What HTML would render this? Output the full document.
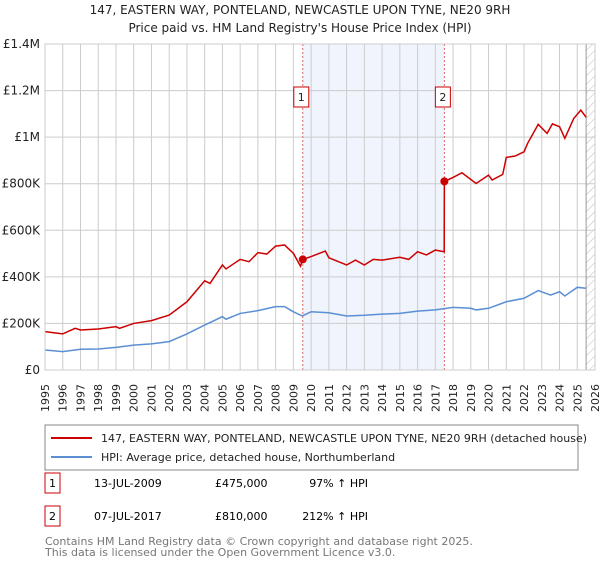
<!DOCTYPE html>
<html><head><meta charset="utf-8"><style>
body{margin:0;background:#fff;font-family:"Liberation Sans","DejaVu Sans",sans-serif;}
svg text{font-family:"DejaVu Sans","Liberation Sans",sans-serif;}
</style></head><body>
<svg id="chart" width="600" height="560" viewBox="0 0 600 560">
<defs><pattern id="hatch" width="6" height="6" patternUnits="userSpaceOnUse" patternTransform="rotate(45)"><line x1="0" y1="0" x2="0" y2="6" stroke="#bbb" stroke-width="1"/></pattern></defs>
<text x="300" y="14" text-anchor="middle" font-size="12" fill="#222">147, EASTERN WAY, PONTELAND, NEWCASTLE UPON TYNE, NE20 9RH</text>
<text x="300" y="32" text-anchor="middle" font-size="12" fill="#222">Price paid vs. HM Land Registry's House Price Index (HPI)</text>
<g id="plot"></g>
<rect x="45" y="425" width="533" height="45" fill="#fff" stroke="#888"/>
<line x1="51" y1="438" x2="92" y2="438" stroke="#cc0000" stroke-width="2"/>
<text x="101" y="442" font-size="11" fill="#222">147, EASTERN WAY, PONTELAND, NEWCASTLE UPON TYNE, NE20 9RH (detached house)</text>
<line x1="51" y1="457" x2="92" y2="457" stroke="#5b8fd4" stroke-width="2"/>
<text x="101" y="461" font-size="11" fill="#222">HPI: Average price, detached house, Northumberland</text>
<g>
<rect x="45" y="473" width="15" height="20" fill="#fff" stroke="#cc0000"/>
<text x="52.5" y="487" text-anchor="middle" font-size="11">1</text>
<text x="94" y="487" font-size="11">13-JUL-2009</text>
<text x="215" y="487" font-size="11">£475,000</text>
<text x="368" y="487" text-anchor="end" font-size="11">97% ↑ HPI</text></g>
<g>
<rect x="45" y="506" width="15" height="20" fill="#fff" stroke="#cc0000"/>
<text x="52.5" y="520" text-anchor="middle" font-size="11">2</text>
<text x="94" y="520" font-size="11">07-JUL-2017</text>
<text x="215" y="520" font-size="11">£810,000</text>
<text x="368" y="520" text-anchor="end" font-size="11">212% ↑ HPI</text></g>
<text x="45" y="545" font-size="11" fill="#777">Contains HM Land Registry data © Crown copyright and database right 2025.</text>
<text x="45" y="556" font-size="11" fill="#777">This data is licensed under the Open Government Licence v3.0.</text>
</svg>
<script>
const yTicks=[0,200,400,600,800,1000,1200,1400];
const yTickLabels=["£0","£200K","£400K","£600K","£800K","£1M","£1.2M","£1.4M"];
const years=[1995,1996,1997,1998,1999,2000,2001,2002,2003,2004,2005,2006,2007,2008,2009,2010,2011,2012,2013,2014,2015,2016,2017,2018,2019,2020,2021,2022,2023,2024,2025,2026];
const hpiT=[1995,1996,1997,1998,1999,2000,2001,2002,2003,2004,2005,2005.2,2006,2007,2008,2008.5,2009,2009.5,2010,2011,2012,2013,2014,2015,2016,2017,2018,2019,2019.3,2020,2021,2022,2022.8,2023.5,2024,2024.3,2025,2025.5];
const hpiV=[86,79,89,90,97,107,112,122,155,193,229,218,243,255,272,272,250,232,250,246,232,235,240,243,253,258,269,265,258,265,293,308,341,322,336,318,355,351];
const priceT=[1995,1996,1996.7,1997,1998,1999,1999.2,2000,2001,2002,2003,2004,2004.3,2005,2005.2,2006,2006.5,2007,2007.5,2008,2008.5,2009,2009.4,2009.53,2010,2010.8,2011,2012,2012.5,2013,2013.5,2014,2015,2015.5,2016,2016.5,2017,2017.5,2017.51,2018,2018.5,2019.3,2020,2020.2,2020.8,2021,2021.5,2022,2022.2,2022.8,2023.3,2023.6,2024,2024.3,2024.8,2025.2,2025.5];
const priceV=[165,155,179,172,176,186,179,200,212,236,293,383,372,451,434,475,465,504,498,532,537,501,446,475,487,511,482,451,472,451,475,472,484,475,508,494,515,508,810,827,847,801,837,816,840,913,919,937,973,1055,1016,1057,1045,995,1080,1116,1085];
const saleT=[2009.53,2017.51];
const saleV=[475,810];
const L=45,R=595,T=44,B=370,Y0=1995,Y1=2026,VMAX=1400;
const x=t=>L+(t-Y0)/(Y1-Y0)*(R-L);
const y=v=>B-v/VMAX*(B-T);
const NS="http://www.w3.org/2000/svg";
const g=document.getElementById('plot');
function mk(tag,a,p){const e=document.createElementNS(NS,tag);for(const k in a)e.setAttribute(k,a[k]);(p||g).appendChild(e);return e;}
let e;
e=mk('rect',{x:x(saleT[0]),y:T,width:x(saleT[1])-x(saleT[0]),height:B-T,fill:'#f0f4fd'});


e=mk('rect',{x:x(2025.5),y:T,width:R-x(2025.5),height:B-T,fill:'url(#hatch)'});


years.forEach(yr=>{e=mk('line',{x1:x(yr),x2:x(yr),y1:T,y2:B,stroke:'#ccc'});


e=mk('text',{x:0,y:0,transform:`translate(${x(yr)+4},384) rotate(-90)`,'text-anchor':'end','font-size':'11',fill:'#222'});e.textContent=yr;

});
yTicks.forEach((v,i)=>{e=mk('line',{x1:L,x2:R,y1:y(v),y2:y(v),stroke:'#ccc'});


e=mk('text',{x:40,y:y(v)+4,'text-anchor':'end','font-size':'12',fill:'#222'});e.textContent=yTickLabels[i];

});
e=mk('line',{x1:x(2025.5),x2:x(2025.5),y1:T,y2:B,stroke:'#999'});


saleT.forEach((t,i)=>{e=mk('line',{x1:x(t),x2:x(t),y1:T,y2:B,stroke:'#e06666','stroke-dasharray':'2,2'});

});
e=mk('polyline',{points:hpiT.map((t,i)=>x(t)+','+y(hpiV[i])).join(' '),fill:'none',stroke:'#5b8fd4','stroke-width':1.5});


e=mk('polyline',{points:priceT.map((t,i)=>x(t)+','+y(priceV[i])).join(' '),fill:'none',stroke:'#cc0000','stroke-width':1.5});


saleT.forEach((t,i)=>{e=mk('circle',{cx:x(t),cy:y(saleV[i]),r:4,fill:'#cc0000'});


e=mk('rect',{x:x(t)-(i?10:10),y:87,width:15,height:20,fill:'#fff',stroke:'#cc0000'});
e.setAttribute('x',x(t)-(i?9:9));


e=mk('text',{x:x(t)-1.5,y:101,'text-anchor':'middle','font-size':'11',fill:'#222'});e.textContent=String(i+1);

});
e=mk('rect',{x:L,y:T,width:R-L,height:B-T,fill:'none',stroke:'#ccc'});


</script>
</body></html>
